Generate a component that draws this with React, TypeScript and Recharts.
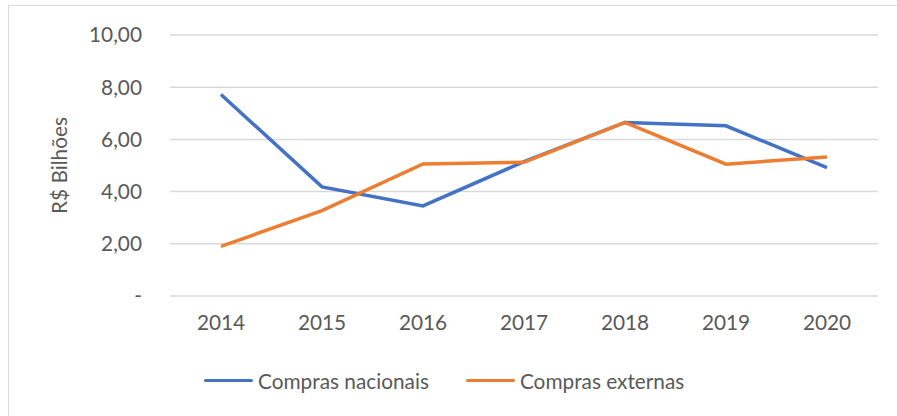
import { CartesianGrid, Line, LineChart, XAxis, YAxis } from "recharts";

const years = ["2014", "2015", "2016", "2017", "2018", "2019", "2020"];
const comprasNacionais = [7.72, 4.18, 3.45, 5.15, 6.65, 6.52, 4.92];
const comprasExternas = [1.9, 3.27, 5.06, 5.12, 6.65, 5.05, 5.33];
const yTicks = [0, 2, 4, 6, 8, 10];
const yTickLabels = ["-", "2,00", "4,00", "6,00", "8,00", "10,00"];

const series = [
  { key: "nacionais", name: "Compras nacionais", color: "#4472C4" },
  { key: "externas", name: "Compras externas", color: "#ED7D31" },
];

const data = years.map((year, i) => ({
  year,
  nacionais: comprasNacionais[i],
  externas: comprasExternas[i],
}));

const font = "Lato, 'Noto Sans', sans-serif";
const textColor = "#595959";
const fontSize = 20.8;

export default function App() {
  return (
    <div
      style={{
        position: "absolute",
        left: 0,
        top: 0,
        width: 897,
        height: 416,
        overflow: "hidden",
        background: "#fff",
        fontFamily: font,
      }}
    >
      <div
        style={{
          position: "absolute",
          left: 8,
          top: 5,
          width: 900,
          height: 430,
          border: "1px solid #d9d9d9",
        }}
      />
      <LineChart
        width={897}
        height={416}
        data={data}
        margin={{ top: 35, right: 19, left: 0, bottom: 90 }}
        style={{ position: "absolute", left: 0, top: 0 }}
      >
        <CartesianGrid vertical={false} stroke="#d9d9d9" strokeWidth={1.5} />
        <XAxis
          dataKey="year"
          height={30}
          padding={{ left: 51, right: 51 }}
          axisLine={false}
          tickLine={false}
          tickSize={0}
          tickMargin={19}
          tick={{ fontSize, fill: textColor, fontFamily: font }}
        />
        <YAxis
          width={170}
          domain={[0, 10]}
          ticks={yTicks}
          axisLine={false}
          tickLine={false}
          tickSize={0}
          tickMargin={28}
          tickFormatter={(v: number) => yTickLabels[yTicks.indexOf(v)]}
          tick={{ fontSize, fill: textColor, fontFamily: font }}
          label={{
            value: "R$ Bilhões",
            angle: -90,
            position: "center",
            dx: -25,
            fill: textColor,
            fontSize,
            fontFamily: font,
          }}
        />
        {series.map((s) => (
          <Line
            key={s.key}
            type="linear"
            dataKey={s.key}
            name={s.name}
            stroke={s.color}
            strokeWidth={3.5}
            dot={false}
            activeDot={false}
            isAnimationActive={false}
          />
        ))}
      </LineChart>
      <div
        style={{
          position: "absolute",
          left: 204,
          top: 368,
          display: "flex",
          alignItems: "center",
          fontSize,
          color: textColor,
          gap: 37,
        }}
      >
        {series.map((s) => (
          <div key={s.key} style={{ display: "flex", alignItems: "center" }}>
            <span
              style={{
                display: "inline-block",
                width: 49,
                height: 3.5,
                borderRadius: 2,
                background: s.color,
                marginRight: 5,
              }}
            />
            <span>{s.name}</span>
          </div>
        ))}
      </div>
    </div>
  );
}
